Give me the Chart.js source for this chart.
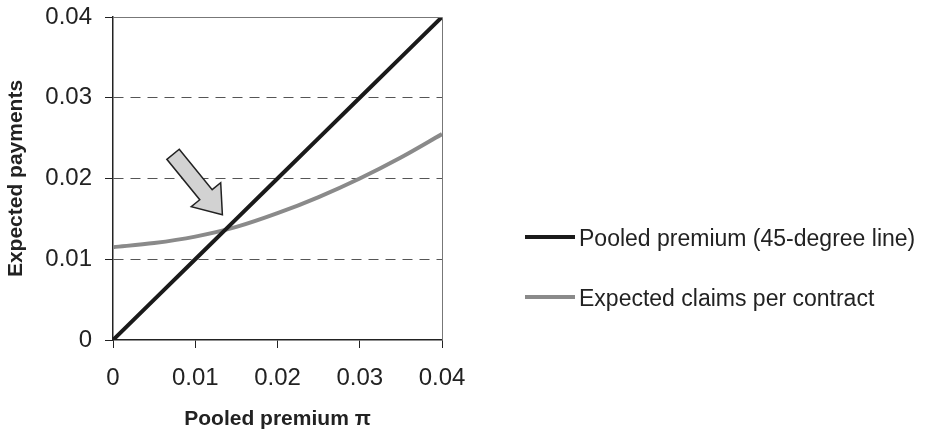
<!DOCTYPE html>
<html>
<head>
<meta charset="utf-8">
<script src="https://cdn.jsdelivr.net/npm/chart.js@4/dist/chart.umd.min.js"></script>
<style>
  html, body { margin: 0; padding: 0; background: #fff; }
  #wrap { width: 925px; height: 432px; position: relative; }
</style>
</head>
<body>
<div id="wrap"><canvas id="myChart" width="925" height="432"></canvas></div>
<script>
var premium = [0, 0.005, 0.01, 0.015, 0.02, 0.025, 0.03, 0.035, 0.04];
var pooledLine = [0, 0.005, 0.01, 0.015, 0.02, 0.025, 0.03, 0.035, 0.04];
var claims = [0.0115, 0.0120, 0.0128, 0.0140, 0.0157, 0.0177, 0.0200, 0.0226, 0.0255];
var seriesNames = ["Pooled premium (45-degree line)", "Expected claims per contract"];
var tickValues = [0, 0.01, 0.02, 0.03, 0.04];
// arrow tail and tip, in data units
var arrowTail = [0.0073, 0.0230];
var arrowTip = [0.0133, 0.0155];

var font = "'Liberation Sans', Arial, sans-serif";

function pts(ys) {
    return premium.map(function (x, i) { return { x: x, y: ys[i] }; });
}

var extras = {
    id: "extras",
    afterDraw: function (chart) {
        var c = chart.ctx, a = chart.chartArea;
        var xs = chart.scales.x, ys = chart.scales.y;
        c.save();
        // top and right frame
        c.strokeStyle = "#777";
        c.lineWidth = 1;
        c.beginPath();
        c.moveTo(a.left, a.top + 0.5);
        c.lineTo(a.right + 0.5, a.top + 0.5);
        c.lineTo(a.right + 0.5, a.bottom);
        c.stroke();

        // block arrow
        var x0 = xs.getPixelForValue(arrowTail[0]), y0 = ys.getPixelForValue(arrowTail[1]);
        var x1 = xs.getPixelForValue(arrowTip[0]), y1 = ys.getPixelForValue(arrowTip[1]);
        var ang = Math.atan2(y1 - y0, x1 - x0);
        var len = Math.hypot(x1 - x0, y1 - y0);
        var sw = 8, hw = 19, hl = 26;
        c.translate(x0, y0);
        c.rotate(ang);
        c.beginPath();
        c.moveTo(0, -sw);
        c.lineTo(len - hl, -sw);
        c.lineTo(len - hl, -hw);
        c.lineTo(len, 0);
        c.lineTo(len - hl, hw);
        c.lineTo(len - hl, sw);
        c.lineTo(0, sw);
        c.closePath();
        c.fillStyle = "#d2d2d2";
        c.fill();
        c.strokeStyle = "#222";
        c.lineWidth = 1.5;
        c.stroke();
        c.restore();

        // legend
        c.save();
        var ly = [237, 297];
        chart.data.datasets.forEach(function (ds, i) {
            c.strokeStyle = ds.borderColor;
            c.lineWidth = 4;
            c.beginPath();
            c.moveTo(525, ly[i]);
            c.lineTo(575, ly[i]);
            c.stroke();
            c.fillStyle = "#222";
            c.font = "23px " + font;
            c.textBaseline = "middle";
            c.fillText(ds.label, 579, ly[i] + 3);
        });
        c.restore();
    }
};

var ctx = document.getElementById("myChart");
var myChart = new Chart(ctx, {
    type: "line",
    data: {
        datasets: [
            {
                label: seriesNames[0],
                data: pts(pooledLine),
                borderColor: "#1a1a1a",
                borderWidth: 4,
                pointRadius: 0,
                fill: false,
                tension: 0
            },
            {
                label: seriesNames[1],
                data: pts(claims),
                borderColor: "#8a8a8a",
                borderWidth: 4,
                pointRadius: 0,
                fill: false,
                tension: 0.4,
                cubicInterpolationMode: "monotone"
            }
        ]
    },
    options: {
        responsive: false,
        animation: false,
        layout: { padding: { left: 0, top: 17, right: 483, bottom: 0 } },
        plugins: { legend: { display: false }, tooltip: { enabled: false } },
        scales: {
            x: {
                type: "linear",
                min: 0,
                max: 0.04,
                afterBuildTicks: function (s) { s.ticks = tickValues.map(function (v) { return { value: v }; }); },
                afterFit: function (s) { s.height = 92; s.paddingLeft = 0; s.paddingRight = 0; },
                grid: { drawOnChartArea: false, tickLength: 8, tickColor: "#222" },
                border: { color: "#222", width: 1.5 },
                ticks: {
                    padding: 16,
                    color: "#222",
                    font: { family: font, size: 24 },
                    callback: function (v) { return String(v); }
                },
                title: {
                    display: true,
                    text: "Pooled premium \u03c0",
                    color: "#222",
                    font: { family: font, size: 21, weight: "bold" },
                    padding: { top: 0, bottom: 0 }
                }
            },
            y: {
                min: 0,
                max: 0.04,
                afterBuildTicks: function (s) { s.ticks = tickValues.map(function (v) { return { value: v }; }); },
                afterFit: function (s) { s.width = 113; s.paddingTop = 0; s.paddingBottom = 0; },
                grid: {
                    tickLength: 8,
                    tickColor: "#222",
                    color: function (c) {
                        var v = c.tick && c.tick.value;
                        return (v > 0.005 && v < 0.035) ? "#555" : "rgba(0,0,0,0)";
                    },
                    lineWidth: 1
                },
                border: { color: "#222", width: 1.5, dash: [10, 7] },
                ticks: {
                    padding: 13,
                    color: "#222",
                    font: { family: font, size: 24 },
                    callback: function (v) { return String(v); }
                },
                title: {
                    display: true,
                    text: "Expected payments",
                    color: "#222",
                    font: { family: font, size: 21, weight: "bold" },
                    padding: { top: 4 }
                }
            }
        }
    },
    plugins: [extras]
});
</script>
</body>
</html>
